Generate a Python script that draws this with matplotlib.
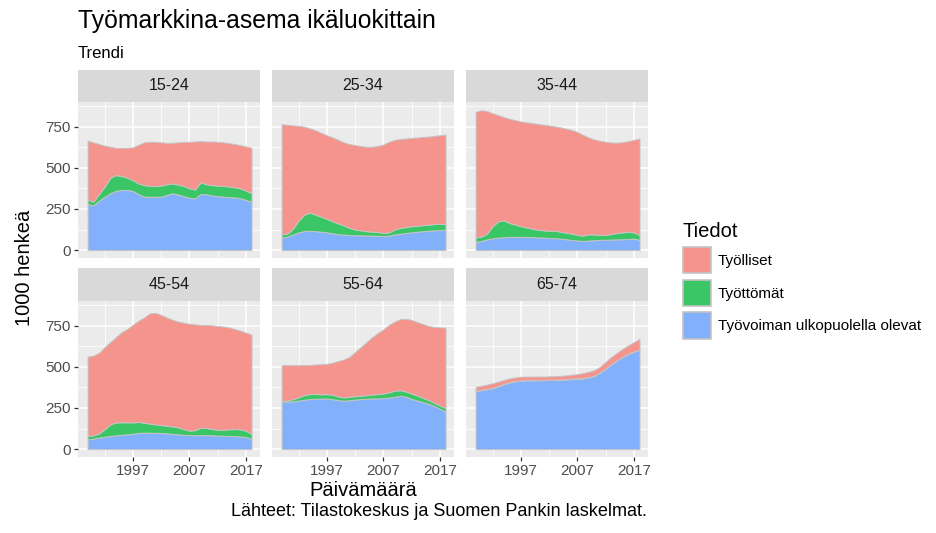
import numpy as np
import matplotlib.pyplot as plt
from matplotlib.patches import Patch

plt.rcParams['font.family'] = ['Liberation Sans', 'DejaVu Sans']

years = np.arange(1989, 2019)
groups = ['15-24', '25-34', '35-44', '45-54', '55-64', '65-74']
series_names = ['Työlliset', 'Työttömät', 'Työvoiman ulkopuolella olevat']

# 1000 henkeä, arvioitu kuvasta
ulkopuolella = {
    '15-24': [280, 272, 300, 324, 345, 360, 365, 366, 360, 340, 325, 324, 324, 325, 335,
              345, 338, 328, 318, 314, 340, 340, 332, 328, 325, 322, 320, 315, 305, 294],
    '25-34': [75, 82, 95, 108, 116, 118, 115, 112, 108, 102, 97, 94, 92, 90, 90,
              89, 88, 87, 86, 88, 95, 100, 104, 108, 112, 115, 118, 120, 122, 124],
    '35-44': [50, 55, 65, 72, 76, 78, 80, 81, 81, 80, 79, 77, 76, 74, 72,
              70, 66, 62, 58, 56, 58, 60, 62, 63, 64, 65, 66, 68, 70, 62],
    '45-54': [58, 64, 70, 75, 80, 84, 87, 90, 93, 99, 100, 100, 99, 98, 96,
              93, 90, 87, 85, 84, 85, 85, 84, 82, 81, 80, 79, 77, 74, 62],
    '55-64': [288, 289, 290, 295, 300, 304, 306, 307, 308, 303, 298, 294, 297, 301, 304,
              306, 308, 308, 310, 313, 318, 324, 318, 305, 295, 285, 275, 262, 245, 228],
    '65-74': [352, 358, 364, 370, 382, 395, 405, 412, 416, 418, 418, 418, 419, 420, 420,
              421, 423, 426, 428, 430, 436, 445, 465, 490, 515, 538, 560, 578, 592, 604],
}
tyottomat = {
    '15-24': [28, 22, 40, 61, 95, 96, 85, 74, 65, 65, 70, 66, 65, 67, 65,
              60, 60, 62, 57, 54, 72, 60, 63, 64, 65, 64, 62, 60, 57, 51],
    '25-34': [22, 18, 35, 72, 99, 110, 100, 91, 82, 73, 65, 56, 43, 35, 30,
              26, 24, 23, 19, 20, 30, 35, 36, 37, 36, 37, 37, 38, 38, 34],
    '35-44': [27, 27, 35, 73, 99, 102, 85, 74, 64, 58, 51, 47, 44, 44, 46,
              42, 40, 38, 34, 32, 38, 35, 30, 29, 34, 39, 42, 42, 38, 30],
    '45-54': [22, 19, 25, 45, 70, 78, 76, 73, 69, 66, 60, 55, 51, 48, 46,
              45, 42, 35, 27, 31, 45, 43, 38, 36, 37, 40, 43, 43, 38, 30],
    '55-64': [4, 7, 13, 20, 28, 30, 29, 26, 26, 27, 22, 20, 21, 21, 20,
              22, 24, 26, 28, 32, 37, 34, 32, 33, 30, 27, 23, 20, 20, 22],
    '65-74': [2, 2, 2, 2, 2, 2, 2, 2, 2, 2, 2, 2, 2, 2, 2,
              2, 2, 2, 2, 2, 2, 2, 2, 2, 2, 2, 2, 2, 2, 2],
}
tyolliset = {
    '15-24': [357, 361, 305, 250, 188, 166, 172, 182, 199, 235, 260, 269, 269, 263, 252,
              247, 257, 268, 283, 292, 250, 260, 265, 266, 265, 264, 263, 263, 268, 277],
    '25-34': [668, 662, 628, 575, 535, 512, 513, 509, 508, 510, 508, 505, 510, 513, 512,
              513, 516, 522, 537, 550, 545, 540, 538, 537, 536, 536, 535, 536, 538, 544],
    '35-44': [763, 768, 745, 687, 645, 628, 633, 635, 637, 638, 642, 643, 642, 639, 634,
              634, 632, 630, 626, 612, 589, 577, 572, 566, 556, 549, 548, 552, 562, 586],
    '45-54': [482, 485, 490, 500, 500, 518, 547, 567, 593, 615, 640, 670, 678, 669, 658,
              648, 643, 646, 650, 643, 625, 626, 630, 630, 627, 620, 608, 600, 596, 603],
    '55-64': [218, 214, 207, 195, 183, 178, 179, 183, 184, 195, 215, 231, 242, 268, 296,
              322, 348, 371, 390, 410, 420, 432, 442, 447, 447, 448, 450, 460, 475, 488],
    '65-74': [24, 25, 26, 28, 26, 23, 23, 22, 22, 21, 21, 21, 20, 20, 21,
              22, 23, 24, 26, 30, 32, 33, 33, 38, 43, 45, 48, 50, 56, 64],
}

col_red = '#F5938D'
col_green = '#3BC665'
col_blue = '#83B0FA'
edge = '#C4C4C4'

W, H = 936, 533
fig = plt.figure(figsize=(W / 100, H / 100), dpi=100)

lefts = [78, 272, 466]
pw = 182
rows = [(102, 258, 70), (301, 457, 268)]  # plot top, plot bottom, strip top


def fx(px):
    return px / W


def fy(py):
    return 1 - py / H


for i, g in enumerate(groups):
    r, c = divmod(i, 3)
    top, bot, stop = rows[r]
    ax = fig.add_axes([fx(lefts[c]), fy(bot), pw / W, (bot - top) / H])
    ax.set_facecolor('#EBEBEB')
    ax.stackplot(years, ulkopuolella[g], tyottomat[g], tyolliset[g],
                 colors=[col_blue, col_green, col_red],
                 edgecolor=edge, linewidth=0.7, zorder=3)
    ax.set_xlim(1987.3, 2019.5)
    ax.set_ylim(-48, 900)
    ax.set_xticks([1997, 2007, 2017])
    ax.set_xticks([1992, 2002, 2012], minor=True)
    ax.set_yticks([0, 250, 500, 750])
    ax.set_yticks([125, 375, 625, 875], minor=True)
    ax.grid(which='major', color='white', linewidth=1.1, zorder=0)
    ax.grid(which='minor', color='white', linewidth=0.55, zorder=0)
    ax.set_axisbelow(True)
    for s in ax.spines.values():
        s.set_visible(False)
    ax.tick_params(which='major', length=3, width=0.9, color='#333333',
                   labelcolor='#4D4D4D', labelsize=11, pad=2)
    ax.tick_params(which='minor', length=0)
    if c != 0:
        ax.tick_params(axis='y', left=False, labelleft=False)
    if r == 0:
        ax.tick_params(axis='x', bottom=False, labelbottom=False)

    sax = fig.add_axes([fx(lefts[c]), fy(top), pw / W, (top - stop) / H])
    sax.set_facecolor('#D9D9D9')
    sax.set_xticks([])
    sax.set_yticks([])
    for s in sax.spines.values():
        s.set_visible(False)
    sax.text(0.5, 0.5, g, ha='center', va='center', fontsize=11.5,
             color='#1A1A1A', transform=sax.transAxes)

fig.text(fx(78), fy(21), 'Työmarkkina-asema ikäluokittain', fontsize=17.8,
         ha='left', va='center', color='black')
fig.text(fx(78), fy(53), 'Trendi', fontsize=12, ha='left', va='center', color='black')
fig.text(fx(25), fy(268), '1000 henkeä', fontsize=14.5, rotation=90,
         ha='center', va='center')
fig.text(fx(363), fy(490), 'Päivämäärä', fontsize=14.5, ha='center', va='center')
fig.text(fx(647), fy(512), 'Lähteet: Tilastokeskus ja Suomen Pankin laskelmat.',
         fontsize=13, ha='right', va='center')

handles = [Patch(facecolor=col_red, edgecolor=edge, linewidth=1.2),
           Patch(facecolor=col_green, edgecolor=edge, linewidth=1.2),
           Patch(facecolor=col_blue, edgecolor=edge, linewidth=1.2)]
fig.legend(handles, series_names, loc='upper left',
           bbox_to_anchor=(fx(672), fy(211)), frameon=False,
           fontsize=11, title='Tiedot', title_fontsize=14.5, alignment='left',
           handlelength=1.85, handleheight=2.3, labelspacing=0.4,
           handletextpad=0.45, borderpad=0.2)

fig.savefig('out.png', dpi=100)
